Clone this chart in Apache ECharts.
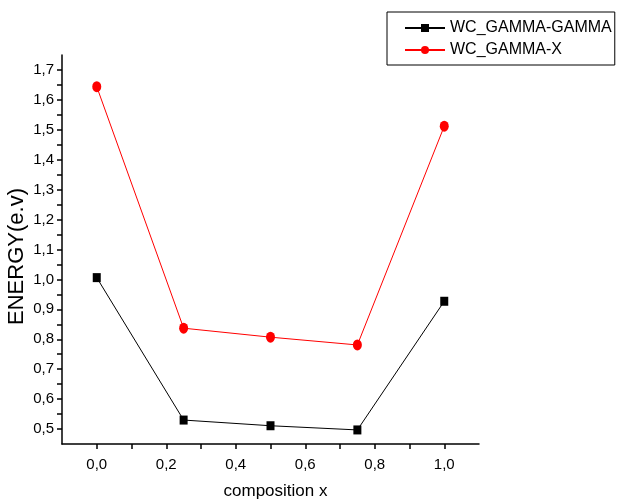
<!DOCTYPE html>
<html>
<head>
<meta charset="utf-8">
<script src="https://cdn.jsdelivr.net/npm/echarts@6/dist/echarts.min.js"></script>
<style>
  html, body { margin: 0; padding: 0; background: #ffffff; }
  #chart { width: 619px; height: 502px; }
</style>
</head>
<body>
<div id="chart"></div>
<script>
// composition values along the x axis
const compositions = [0.0, 0.25, 0.5, 0.75, 1.0];
// band energies (eV)
const gammaGamma = [1.006, 0.530, 0.511, 0.497, 0.927];
const gammaX = [1.644, 0.837, 0.807, 0.781, 1.512];
const seriesNames = ['WC_GAMMA-GAMMA', 'WC_GAMMA-X'];

const sans = "'Liberation Sans', Arial, sans-serif";
const comma = v => v.toFixed(1).replace('.', ',');

const chart = echarts.init(document.getElementById('chart'));
chart.setOption({
  animation: false,
  backgroundColor: '#ffffff',
  grid: { left: 62, right: 140, top: 55, bottom: 58, containLabel: false, outerBoundsMode: 'none' },
  legend: {
    orient: 'vertical',
    left: 387,
    top: 12,
    padding: [8, 3, 7, 17],
    itemGap: 6,
    itemWidth: 40,
    itemHeight: 10,
    borderColor: '#000',
    borderWidth: 1,
    textStyle: { fontFamily: sans, fontSize: 16, color: '#000' },
    data: seriesNames
  },
  xAxis: {
    type: 'value',
    min: -0.1,
    max: 1.1,
    interval: 0.1,
    name: 'composition x',
    nameLocation: 'middle',
    nameGap: 39,
    nameMoveOverlap: false,
    nameTextStyle: { fontFamily: sans, fontSize: 17, color: '#000', padding: [0, 0, 0, 10] },
    splitLine: { show: false },
    axisLine: { onZero: false, lineStyle: { color: '#000', width: 1.5 } },
    axisTick: { show: true, inside: false, length: 5, lineStyle: { color: '#000', width: 1.5 } },
    axisLabel: {
      margin: 13,
      fontFamily: sans, fontSize: 15, color: '#000',
      showMinLabel: false, showMaxLabel: false,
      formatter: v => (Math.round(v * 10) % 2 === 0 && v >= -0.001 && v <= 1.001) ? comma(v) : ''
    }
  },
  yAxis: {
    type: 'value',
    min: 0.45,
    max: 1.75,
    interval: 0.05,
    name: 'ENERGY(e.v)',
    nameLocation: 'middle',
    nameGap: 34,
    nameMoveOverlap: false,
    nameTextStyle: { fontFamily: sans, fontSize: 22, color: '#000', padding: [0, 14, 0, 0] },
    splitLine: { show: false },
    axisLine: { show: true, onZero: false, lineStyle: { color: '#000', width: 1.5 } },
    axisTick: { show: true, inside: false, length: 5, lineStyle: { color: '#000', width: 1.5 } },
    axisLabel: {
      margin: 8,
      fontFamily: sans, fontSize: 15, color: '#000',
      showMinLabel: false, showMaxLabel: false,
      formatter: v => (Math.round(v * 100) % 10 === 0) ? comma(v) : ''
    }
  },
  series: [
    {
      name: seriesNames[0],
      type: 'line',
      data: compositions.map((x, i) => [x, gammaGamma[i]]),
      symbol: 'rect',
      symbolSize: [8, 9],
      color: '#000000',
      lineStyle: { color: '#000000', width: 1 },
      itemStyle: { color: '#000000' }
    },
    {
      name: seriesNames[1],
      type: 'line',
      data: compositions.map((x, i) => [x, gammaX[i]]),
      symbol: 'circle',
      symbolSize: [9, 11],
      color: '#ff0000',
      lineStyle: { color: '#ff0000', width: 1 },
      itemStyle: { color: '#ff0000' }
    }
  ]
});
</script>
</body>
</html>
